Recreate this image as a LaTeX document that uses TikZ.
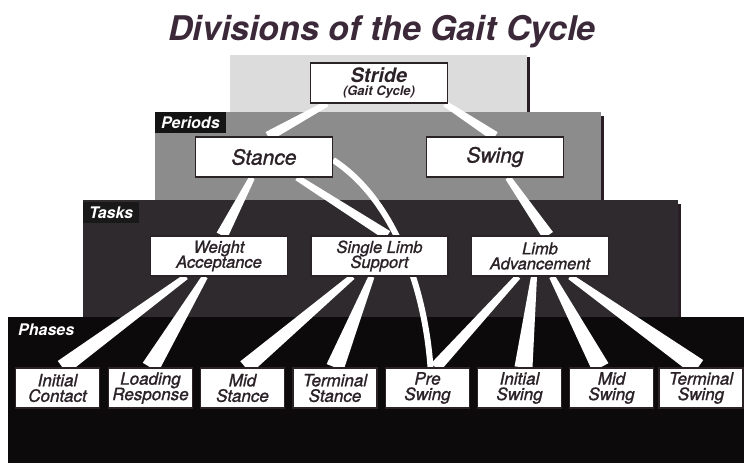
\documentclass[tikz,border=0pt]{standalone}
\usepackage{fontspec}
\setmainfont{TeX Gyre Heros}
\newfontfamily\medfont{TeX Gyre Heros}[ItalicFeatures={FakeBold=1.2}]
\usetikzlibrary{calc}

\pgfdeclarelayer{bands}
\pgfdeclarelayer{links}
\pgfsetlayers{bands,links,main}

\definecolor{ink}{HTML}{2B2228}
\definecolor{titleink}{HTML}{3B2838}
\definecolor{strideband}{HTML}{DCDCDC}
\definecolor{periodband}{HTML}{8C8C8C}
\definecolor{taskband}{HTML}{2E2A2D}
\definecolor{phaseband}{HTML}{0D0A0C}
\definecolor{edgeshade}{HTML}{2A1E26}

\tikzset{
  box/.style={draw=ink, line width=1.2pt, fill=white, text=ink, align=center,
    inner sep=0pt, minimum height=40pt,
    execute at begin node={\lineskiplimit=-20pt\relax}},
  period/.style={box, minimum width=137pt, font=\medfont\fontsize{21}{24}\selectfont\itshape},
  task/.style={box, minimum width=137pt, font=\medfont\fontsize{16.5}{15}\selectfont\itshape},
  phase/.style={box, minimum width=84pt, font=\medfont\fontsize{17}{15.5}\selectfont\itshape},
  tab/.style={anchor=north west, text=white, inner xsep=6pt, inner ysep=0pt,
    minimum height=21pt, font=\fontsize{16}{16}\selectfont\bfseries\itshape},
  link/.style={fill=white},
  arcline/.style={draw=white, line width=6pt},
}

\begin{document}
\begin{tikzpicture}[x=1pt,y=-1pt]
    \useasboundingbox (0,0) rectangle (744,463);

    % levels
    \begin{pgfonlayer}{bands}
    \fill[strideband] (230,55) rectangle (527,112);
    \fill[edgeshade] (527,57) rectangle (530,112);
    \fill[periodband] (155,112) rectangle (601,200);
    \fill[edgeshade] (601,116) rectangle (604,200);
    \fill[taskband] (83,200) rectangle (678,317);
    \fill[edgeshade] (678,204) rectangle (681,317);
    \fill[phaseband] (8,317) rectangle (744,463);
    \end{pgfonlayer}

    \node[anchor=base, text=titleink, font=\fontsize{34}{36}\selectfont\bfseries\itshape]
      (title) at (382,40) {Divisions of the Gait Cycle};

    \node[box, minimum width=137pt, font=\fontsize{20}{13.5}\selectfont\bfseries\itshape]
      (stride) at (379,83) {Stride\\{\fontsize{13}{13.5}\selectfont (Gait Cycle)}};

    \node[tab, fill=black!92] (periods) at (155,112) {Periods};
    \node[period] (stance) at (264,157) {Stance};
    \node[period] (swing) at (495,157) {Swing};

    \node[tab, fill=black!90] (tasks) at (83,202) {Tasks};
    \node[task] (weight) at (219,256) {Weight\\Acceptance};
    \node[task] (single) at (379.5,256) {Single Limb\\Support};
    \node[task] (advance) at (540,256) {Limb\\Advancement};

    \node[tab] (phases) at (12,319) {Phases};
    \node[phase] (initc) at (57.5,388) {Initial\\Contact};
    \node[phase] (loadr) at (150.5,388) {Loading\\Response};
    \node[phase] (mids) at (242.5,388) {Mid\\Stance};
    \node[phase] (terms) at (335,388) {Terminal\\Stance};
    \node[phase] (pres) at (427.5,388) {Pre\\Swing};
    \node[phase] (inits) at (519.5,388) {Initial\\Swing};
    \node[phase] (midsw) at (611.5,388) {Mid\\Swing};
    \node[phase] (termsw) at (701,388) {Terminal\\Swing};

    % white wedges between levels
    \begin{pgfonlayer}{links}
    \foreach \s/\sx/\t/\tx/\wa/\wb in {
        stride/-52pt/stance/4pt/3pt/5pt, stride/66pt/swing/0pt/3pt/5pt,
        stance/-12pt/weight/3pt/3pt/6pt, stance/33pt/single/8pt/3pt/5pt,
        swing/13pt/advance/8pt/3pt/6pt,
        weight/-33pt/initc/5pt/3pt/8pt, weight/-14pt/loadr/0pt/3pt/9pt,
        single/-27pt/mids/3pt/3pt/8pt, single/-8pt/terms/0pt/3pt/9pt,
        advance/-22pt/pres/8pt/3pt/6pt, advance/-6pt/inits/4pt/3pt/9pt,
        advance/12pt/midsw/-11pt/3pt/9pt, advance/30pt/termsw/-3pt/3pt/9pt}{
      \path ([xshift=\sx]\s.south) coordinate (p) ([xshift=\tx]\t.north) coordinate (q);
      \fill[link] ($(p)!\wa!90:(q)$) -- ($(q)!\wb!-90:(p)$)
        -- ($(q)!\wb!90:(p)$) -- ($(p)!\wa!-90:(q)$) -- cycle;
    }
    \draw[arcline] ([yshift=-3pt]stance.east) .. controls (395,200) and (425,290)
      .. ([xshift=3pt]pres.north);
    \end{pgfonlayer}
\end{tikzpicture}
\end{document}
